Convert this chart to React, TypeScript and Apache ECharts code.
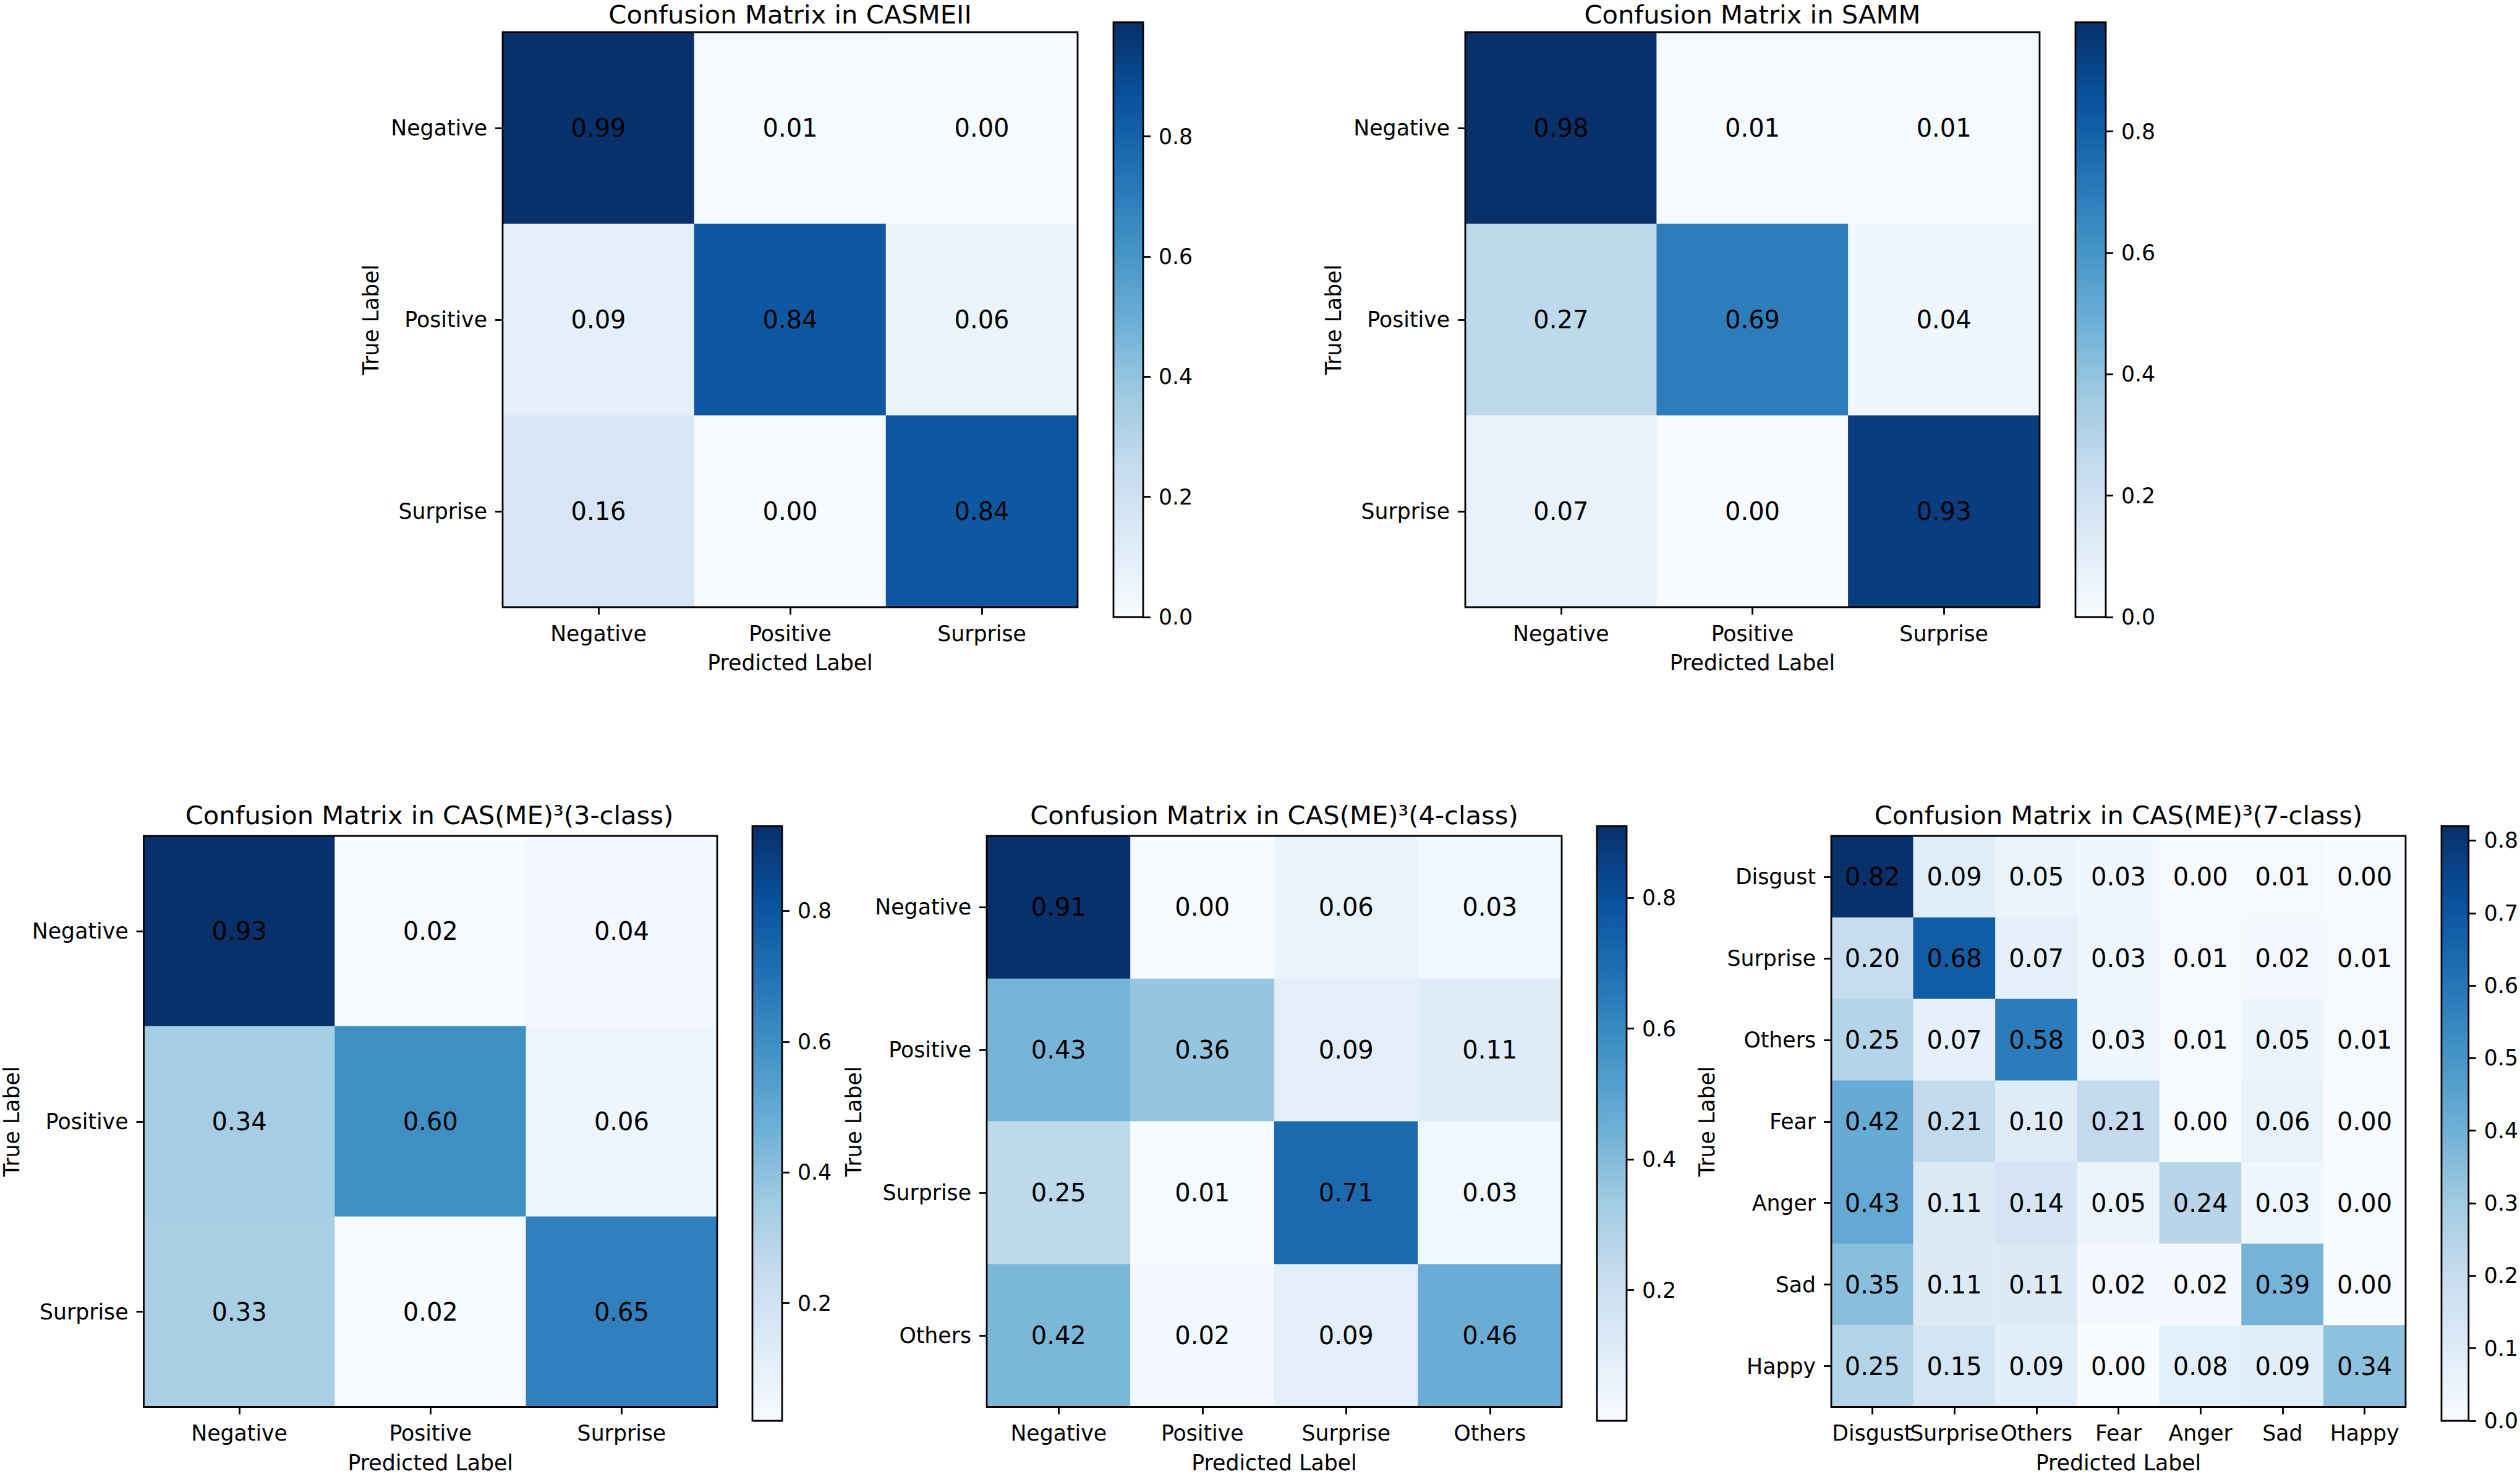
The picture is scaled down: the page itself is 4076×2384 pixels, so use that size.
import React, { useEffect, useRef } from "react";
import * as echarts from "echarts";

const FONT = "DejaVu Sans";

// Matplotlib "Blues" colormap control colours (evenly spaced)
const BLUES = [
  "#f7fbff", "#deebf7", "#c6dbef", "#9ecae1", "#6baed6",
  "#4292c6", "#2171b5", "#08519c", "#08306b",
];

// Class labels
const labels3 = ["Negative", "Positive", "Surprise"];
const labels4 = ["Negative", "Positive", "Surprise", "Others"];
const labels7 = ["Disgust", "Surprise", "Others", "Fear", "Anger", "Sad", "Happy"];

// Normalised confusion matrices (rows = true label, columns = predicted label)
const casme2 = [
  [0.99, 0.01, 0.0],
  [0.09, 0.84, 0.06],
  [0.16, 0.0, 0.84],
];
const samm = [
  [0.98, 0.01, 0.01],
  [0.27, 0.69, 0.04],
  [0.07, 0.0, 0.93],
];
const cas3 = [
  [0.93, 0.02, 0.04],
  [0.34, 0.6, 0.06],
  [0.33, 0.02, 0.65],
];
const cas4 = [
  [0.91, 0.0, 0.06, 0.03],
  [0.43, 0.36, 0.09, 0.11],
  [0.25, 0.01, 0.71, 0.03],
  [0.42, 0.02, 0.09, 0.46],
];
const cas7 = [
  [0.82, 0.09, 0.05, 0.03, 0.0, 0.01, 0.0],
  [0.2, 0.68, 0.07, 0.03, 0.01, 0.02, 0.01],
  [0.25, 0.07, 0.58, 0.03, 0.01, 0.05, 0.01],
  [0.42, 0.21, 0.1, 0.21, 0.0, 0.06, 0.0],
  [0.43, 0.11, 0.14, 0.05, 0.24, 0.03, 0.0],
  [0.35, 0.11, 0.11, 0.02, 0.02, 0.39, 0.0],
  [0.25, 0.15, 0.09, 0.0, 0.08, 0.09, 0.34],
];

// Colour-bar tick labels
const ticksFrom0 = [0.0, 0.2, 0.4, 0.6, 0.8];
const ticksFrom02 = [0.2, 0.4, 0.6, 0.8];
const ticksTenths = [0.0, 0.1, 0.2, 0.3, 0.4, 0.5, 0.6, 0.7, 0.8];

type Box = { left: number; top: number; width: number; height: number };
type Panel = {
  title: string;
  labels: string[];
  matrix: number[][];
  ticks: number[];
  plot: Box;
  bar: Box;
  yNameGap: number;
};

const panels: Panel[] = [
  {
    title: "Confusion Matrix in CASMEII",
    labels: labels3,
    matrix: casme2,
    ticks: ticksFrom0,
    plot: { left: 813, top: 52, width: 930, height: 930 },
    bar: { left: 1801, top: 36, width: 48, height: 962 },
    yNameGap: 213,
  },
  {
    title: "Confusion Matrix in SAMM",
    labels: labels3,
    matrix: samm,
    ticks: ticksFrom0,
    plot: { left: 2370, top: 52, width: 929, height: 930 },
    bar: { left: 3357, top: 36, width: 49, height: 962 },
    yNameGap: 213,
  },
  {
    title: "Confusion Matrix in CAS(ME)\u00b3(3-class)",
    labels: labels3,
    matrix: cas3,
    ticks: ticksFrom02,
    plot: { left: 229, top: 1352, width: 931, height: 930 },
    bar: { left: 1217, top: 1336, width: 48, height: 962 },
    yNameGap: 214,
  },
  {
    title: "Confusion Matrix in CAS(ME)\u00b3(4-class)",
    labels: labels4,
    matrix: cas4,
    ticks: ticksFrom02,
    plot: { left: 1596, top: 1352, width: 930, height: 930 },
    bar: { left: 2583, top: 1336, width: 48, height: 962 },
    yNameGap: 215,
  },
  {
    title: "Confusion Matrix in CAS(ME)\u00b3(7-class)",
    labels: labels7,
    matrix: cas7,
    ticks: ticksTenths,
    plot: { left: 2962, top: 1352, width: 929, height: 930 },
    bar: { left: 3949, top: 1336, width: 48, height: 962 },
    yNameGap: 201,
  },
];

const TITLE_SIZE = 41.7;
const TICK_SIZE = 34.7;
const ANNOT_SIZE = 40;
const LINE_W = 2.8;

function buildOption() {
  const grid: any[] = [];
  const xAxis: any[] = [];
  const yAxis: any[] = [];
  const series: any[] = [];
  const visualMap: any[] = [];
  const graphic: any[] = [];

  const tickText = { fontSize: TICK_SIZE, color: "#000", fontFamily: FONT };
  const stops = BLUES.map((c, k) => ({ offset: k / (BLUES.length - 1), color: c }));

  panels.forEach((p, i) => {
    const flat = p.matrix.flat();
    const vmin = Math.min(...flat);
    const vmax = Math.max(...flat);
    const gi = grid.length;

    // heatmap area (frame drawn above the cells)
    grid.push({
      ...p.plot,
      show: true,
      z: 3,
      borderColor: "#000",
      borderWidth: LINE_W,
      backgroundColor: "transparent",
    });
    // colour bar
    grid.push({
      ...p.bar,
      show: true,
      borderColor: "#000",
      borderWidth: LINE_W,
      backgroundColor: new echarts.graphic.LinearGradient(0, 1, 0, 0, stops),
    });

    xAxis.push({
      type: "category",
      gridIndex: gi,
      data: p.labels,
      position: "bottom",
      axisLine: { show: false },
      axisTick: { show: true, alignWithLabel: true, length: 12, lineStyle: { color: "#000", width: LINE_W } },
      axisLabel: { ...tickText, interval: 0, margin: 25 },
      splitLine: { show: false },
      name: "Predicted Label",
      nameLocation: "middle",
      nameGap: 90,
      nameTextStyle: { ...tickText, verticalAlign: "middle" },
    });
    yAxis.push({
      type: "category",
      gridIndex: gi,
      data: p.labels,
      inverse: true,
      axisLine: { show: false },
      axisTick: { show: true, alignWithLabel: true, length: 12, lineStyle: { color: "#000", width: LINE_W } },
      axisLabel: { ...tickText, interval: 0, margin: 25 },
      splitLine: { show: false },
      name: "True Label",
      nameLocation: "middle",
      nameGap: p.yNameGap,
      nameRotate: 90,
      nameTextStyle: { ...tickText, verticalAlign: "middle" },
    });

    xAxis.push({
      type: "category",
      gridIndex: gi + 1,
      data: [""],
      show: false,
    });
    yAxis.push({
      type: "value",
      gridIndex: gi + 1,
      position: "right",
      min: vmin,
      max: vmax,
      axisLine: { show: false },
      axisTick: {
        show: true,
        length: 12,
        customValues: p.ticks,
        lineStyle: { color: "#000", width: LINE_W },
      },
      axisLabel: {
        ...tickText,
        margin: 25,
        customValues: p.ticks,
        formatter: (v: number) => v.toFixed(1),
      },
      splitLine: { show: false },
    });

    const data: number[][] = [];
    p.matrix.forEach((row, r) => row.forEach((v, c) => data.push([c, r, v])));
    series.push({
      type: "heatmap",
      xAxisIndex: xAxis.length - 2,
      yAxisIndex: yAxis.length - 2,
      data,
      z: 2,
      label: {
        show: true,
        fontSize: ANNOT_SIZE,
        color: "#000",
        fontFamily: FONT,
        formatter: (prm: any) => prm.value[2].toFixed(2),
      },
      emphasis: { disabled: true },
      itemStyle: { borderWidth: 0 },
    });
    visualMap.push({
      type: "continuous",
      show: false,
      seriesIndex: i,
      dimension: 2,
      min: vmin,
      max: vmax,
      inRange: { color: BLUES },
    });

    graphic.push({
      type: "text",
      x: p.plot.left + p.plot.width / 2,
      y: Math.max(p.plot.top - 34, 23),
      style: {
        text: p.title,
        fontSize: TITLE_SIZE,
        fontFamily: FONT,
        fill: "#000",
        textAlign: "center",
        textVerticalAlign: "middle",
        align: "center",
        verticalAlign: "middle",
      },
    });
  });

  return {
    animation: false,
    backgroundColor: "#fff",
    textStyle: { fontFamily: FONT },
    grid,
    xAxis,
    yAxis,
    series,
    visualMap,
    graphic,
  };
}

export default function App() {
  const ref = useRef<HTMLDivElement>(null);
  useEffect(() => {
    if (!ref.current) return;
    const chart = echarts.init(ref.current, null, { renderer: "svg" });
    chart.setOption(buildOption() as any);
    return () => chart.dispose();
  }, []);
  return (
    <div
      ref={ref}
      style={{ position: "absolute", left: 0, top: 0, width: 4076, height: 2384, background: "#fff" }}
    />
  );
}
